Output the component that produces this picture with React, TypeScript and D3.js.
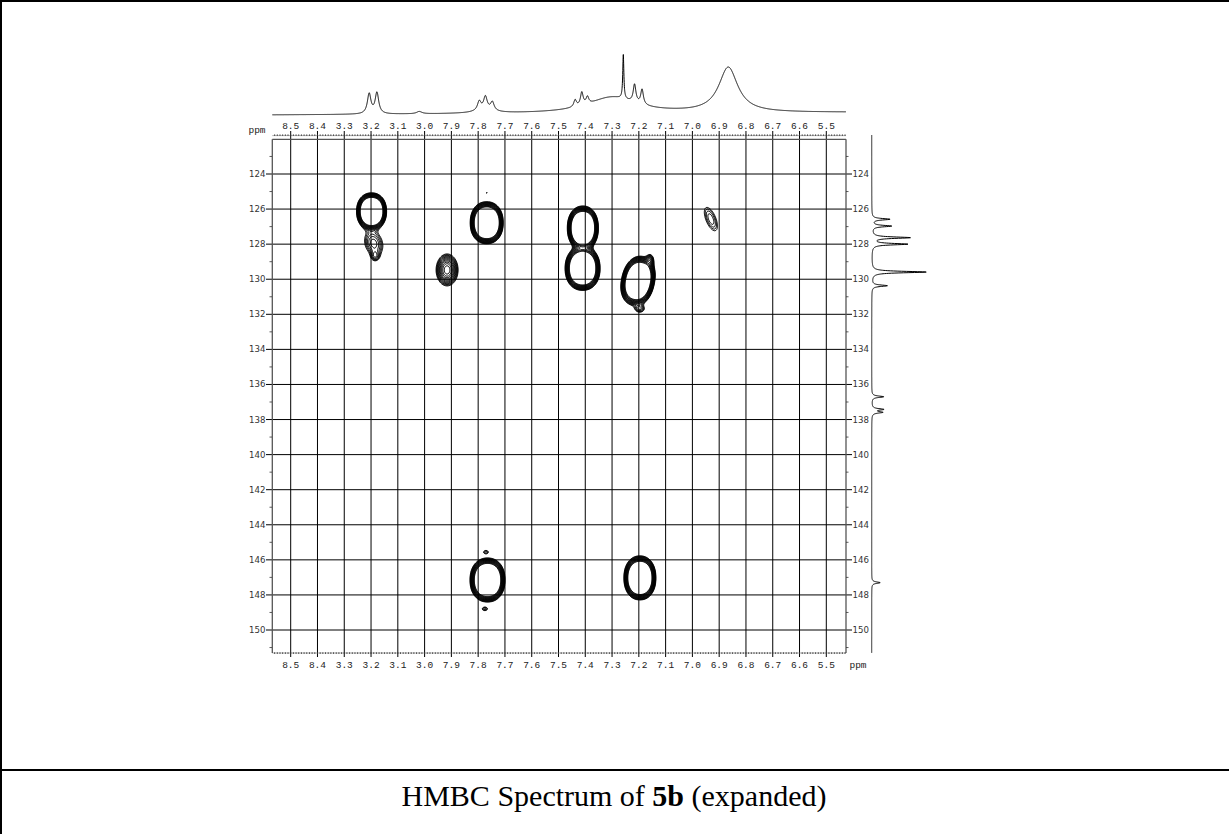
import React, { useMemo } from "react";
import * as d3 from "d3";

// ---- axis ticks -------------------------------------------------------
const protonTicks = [8.5, 8.4, 8.3, 8.2, 8.1, 8.0, 7.9, 7.8, 7.7, 7.6, 7.5, 7.4, 7.3, 7.2, 7.1, 7.0, 6.9, 6.8, 6.7, 6.6, 6.5];
const protonTickLabels = ["8.5", "8.4", "3.3", "3.2", "3.1", "3.0", "7.9", "7.8", "7.7", "7.6", "7.5", "7.4", "7.3", "7.2", "7.1", "7.0", "6.9", "6.8", "6.7", "6.6", "5.5"];
const carbonTicks = [124, 126, 128, 130, 132, 134, 136, 138, 140, 142, 144, 146, 148, 150];
const carbonMinorTicks = [123, 125, 127, 129, 131, 133, 135, 137, 139, 141, 143, 145, 147, 149, 151];

// ---- 1H projection (top trace): position ppm, height, half-width ppm ----
const protonShift = [8.207, 8.178, 8.02, 7.796, 7.773, 7.747, 7.775, 7.30, 7.438, 7.413, 7.392, 7.258, 7.216, 7.188, 6.866];
const protonHeight = [20, 21, 2.3, 9, 13, 8.5, 3, 16, 7, 13, 7, 44, 18, 15, 45];
const protonWidth = [0.008, 0.008, 0.012, 0.008, 0.008, 0.008, 0.045, 0.11, 0.006, 0.006, 0.006, 0.0025, 0.006, 0.006, 0.043];
const protonBaseline = [0, 2.5];

// ---- 13C projection (right trace) ---------------------------------------
const carbonShift = [126.58, 126.97, 127.63, 128.0, 129.59, 130.37, 136.7, 137.42, 137.59, 147.3];
const carbonHeight = [18, 19.5, 38, 35.5, 54.5, 15.5, 12, 11.5, 10.5, 8.5];
const carbonWidth = [0.05, 0.05, 0.05, 0.05, 0.05, 0.05, 0.05, 0.05, 0.05, 0.05];

// ---- HMBC cross peaks: F2 (1H) ppm, F1 (13C) ppm, amplitude, width (ppm), tilt deg, shape exponent
const crossF2 = [8.198, 7.768, 7.916, 7.409, 7.41, 7.203, 6.931, 7.765, 7.196, 8.19, 8.185, 7.196, 7.158, 7.768, 7.771, 7.775];
const crossF1 = [126.13, 126.78, 129.47, 127.08, 129.38, 130.1, 126.57, 147.15, 147.03, 127.95, 128.7, 131.7, 128.9, 125.07, 145.55, 148.8];
const crossAmp = [37, 37, 5.2, 37, 37, 37, 1.7, 37, 37, 2.2, 1.3, 1.6, 2.0, 1.1, 1.3, 1.4];
const crossSigmaH = [0.0228, 0.0251, 0.0226, 0.0236, 0.0266, 0.0251, 0.0181, 0.0266, 0.0243, 0.026, 0.0112, 0.0149, 0.0093, 0.0056, 0.0112, 0.0112];
const crossSigmaC = [0.429, 0.488, 0.502, 0.511, 0.511, 0.58, 0.69, 0.511, 0.511, 0.56, 0.2, 0.171, 0.228, 0.085, 0.114, 0.114];
const crossTilt = [0, 0, 0, 0, 0, 12, -22, 0, 0, -18, 0, 0, 0, 0, 0, 0];
const crossShape = [2.2, 2.2, 2, 2.2, 2.2, 2.2, 2, 2.2, 2.2, 2, 2, 2, 2, 2, 2, 2];
const contourBase = 1;
const contourStep = 1.15;
const contourCount = 13;

const WIDTH = 1229;
const HEIGHT = 834;

const frame = { left: 272.3, right: 846, top: 139.3, bottom: 653 };

const x = d3.scaleLinear().domain([8.5, 6.5]).range([290.7, 826.3]);
const y = d3.scaleLinear().domain([124, 150]).range([174, 630]);
const topY = d3.scaleLinear().domain([0, 60]).range([115, 55]);
const rightX = d3.scaleLinear().domain([0, 60]).range([871.7, 931.7]);

const lorentz = (d: number, h: number, g: number) => h / (1 + (d / g) * (d / g));

export default function App() {
  const hMin = x.invert(frame.right);
  const hMax = x.invert(frame.left);
  const cMin = y.invert(135);
  const cMax = y.invert(frame.bottom);

  const topPath = useMemo(() => {
    const pts: [number, number][] = [];
    for (let p = hMax; p >= hMin; p -= 0.0004) {
      const t = (hMax - p) / (hMax - hMin);
      let v = protonBaseline[0] + (protonBaseline[1] - protonBaseline[0]) * t;
      for (let k = 0; k < protonShift.length; k++) v += lorentz(p - protonShift[k], protonHeight[k], protonWidth[k]);
      pts.push([p, v]);
    }
    return d3.line<[number, number]>().x((d) => x(d[0])).y((d) => topY(d[1]))(pts) || "";
  }, []);

  const rightPath = useMemo(() => {
    const pts: [number, number][] = [];
    for (let c = cMin; c <= cMax; c += 0.008) {
      let v = 0;
      for (let k = 0; k < carbonShift.length; k++) v += lorentz(c - carbonShift[k], carbonHeight[k], carbonWidth[k]);
      pts.push([c, v]);
    }
    return d3.line<[number, number]>().x((d) => rightX(d[1])).y((d) => y(d[0]))(pts) || "";
  }, []);

  const contourPaths = useMemo(() => {
    const W = Math.round(frame.right - frame.left);
    const H = Math.round(frame.bottom - frame.top);
    const grid = new Float64Array(W * H);
    const pxH = Math.abs(x(0) - x(1));
    const pxC = Math.abs(y(1) - y(0));
    for (let k = 0; k < crossF2.length; k++) {
      const cx = x(crossF2[k]) - frame.left;
      const cy = y(crossF1[k]) - frame.top;
      const sx = crossSigmaH[k] * pxH;
      const sy = crossSigmaC[k] * pxC;
      const p = crossShape[k];
      const a = (crossTilt[k] * Math.PI) / 180;
      const ca = Math.cos(a), sa = Math.sin(a);
      const R = 4.5 * Math.max(sx, sy);
      const j0 = Math.max(0, Math.floor(cy - R)), j1 = Math.min(H - 1, Math.ceil(cy + R));
      const i0 = Math.max(0, Math.floor(cx - R)), i1 = Math.min(W - 1, Math.ceil(cx + R));
      for (let j = j0; j <= j1; j++) {
        for (let i = i0; i <= i1; i++) {
          const dx = i + 0.5 - cx, dy = j + 0.5 - cy;
          const u = Math.abs((dx * ca + dy * sa) / sx);
          const v = Math.abs((-dx * sa + dy * ca) / sy);
          grid[j * W + i] += crossAmp[k] * Math.exp(-0.5 * (Math.pow(u, p) + Math.pow(v, p)));
        }
      }
    }
    const levels = d3.range(contourCount).map((k) => contourBase * Math.pow(contourStep, k));
    const cs = d3.contours().size([W, H]).thresholds(levels)(grid as unknown as number[]);
    const gp = d3.geoPath();
    return cs.map((c) => gp(c) || "");
  }, []);

  const minorProton = d3.range(Math.ceil(hMin * 100), Math.floor(hMax * 100) + 1).map((v) => v / 100);

  const monoFont = "'Liberation Mono', 'DejaVu Sans Mono', monospace";
  const sansFont = "'DejaVu Sans', sans-serif";

  return (
    <svg width={WIDTH} height={HEIGHT} style={{ position: "absolute", left: 0, top: 0, background: "#fff" }}>
      <rect x={0} y={0} width={WIDTH} height={HEIGHT} fill="#fff" />
      {/* page border and caption separator */}
      <line x1={1} x2={1} y1={0} y2={HEIGHT} stroke="#000" strokeWidth={2} />
      <line x1={0} x2={WIDTH} y1={1} y2={1} stroke="#000" strokeWidth={2} />
      <line x1={0} x2={WIDTH} y1={770} y2={770} stroke="#000" strokeWidth={2} />
      <text x={614} y={806} textAnchor="middle" fontFamily="'Liberation Serif', 'Times New Roman', serif" fontSize={30} fill="#000">
        HMBC Spectrum of <tspan fontWeight="bold">5b</tspan> (expanded)
      </text>

      {/* grid */}
      <g stroke="#000" strokeWidth={1}>
        {protonTicks.map((t) => (
          <line key={"v" + t} x1={x(t)} x2={x(t)} y1={131} y2={657} />
        ))}
        {carbonTicks.map((t) => (
          <line key={"h" + t} x1={266} x2={852} y1={y(t)} y2={y(t)} />
        ))}
      </g>
      {/* frame */}
      <g stroke="#555" strokeWidth={1.3} fill="none">
        <line x1={frame.left} x2={frame.left} y1={frame.top} y2={frame.bottom} />
        <line x1={frame.right} x2={frame.right} y1={frame.top} y2={frame.bottom} />
        <line x1={frame.left} x2={frame.right} y1={frame.top} y2={frame.top} />
      </g>
      {/* dotted rulers */}
      <g stroke="#333" strokeWidth={0.8}>
        {minorProton.map((t) => (
          <line key={"mt" + t} x1={x(t)} x2={x(t)} y1={134.3} y2={136} />
        ))}
        <line x1={frame.left} x2={frame.right} y1={135.6} y2={135.6} strokeWidth={0.4} />
        {minorProton.map((t) => (
          <line key={"mb" + t} x1={x(t)} x2={x(t)} y1={652.2} y2={654} />
        ))}
        <line x1={frame.left} x2={frame.right} y1={653} y2={653} strokeWidth={0.4} />
        {carbonMinorTicks.filter((t) => y(t) > frame.top && y(t) < frame.bottom).map((t) => (
          <g key={"mc" + t}>
            <line x1={269.5} x2={272} y1={y(t)} y2={y(t)} />
            <line x1={846} x2={848.5} y1={y(t)} y2={y(t)} />
          </g>
        ))}
      </g>

      {/* tick labels */}
      <g fontFamily={monoFont} fontSize={9.5} fill="#222" textAnchor="middle">
        {protonTicks.map((t, i) => (
          <text key={"tt" + t} x={x(t)} y={129}>{protonTickLabels[i]}</text>
        ))}
        {protonTicks.map((t, i) => (
          <text key={"tb" + t} x={x(t)} y={668}>{protonTickLabels[i]}</text>
        ))}
        <text x={257} y={133}>ppm</text>
        <text x={858} y={668}>ppm</text>
      </g>
      <g fontFamily={sansFont} fontSize={8.6} fill="#333">
        {carbonTicks.map((t) => (
          <text key={"cl" + t} x={265.5} y={y(t) + 3} textAnchor="end">{t}</text>
        ))}
        {carbonTicks.map((t) => (
          <text key={"cr" + t} x={852.5} y={y(t) + 3} textAnchor="start">{t}</text>
        ))}
      </g>

      {/* 1D projections */}
      <path d={topPath} fill="none" stroke="#000" strokeWidth={1} />
      <path d={rightPath} fill="none" stroke="#000" strokeWidth={1} />

      {/* HMBC contours */}
      <g transform={`translate(${frame.left},${frame.top})`} fill="none" stroke="#000" strokeWidth={1}>
        {contourPaths.map((d, i) => (
          <path key={"c" + i} d={d} />
        ))}
      </g>
    </svg>
  );
}
